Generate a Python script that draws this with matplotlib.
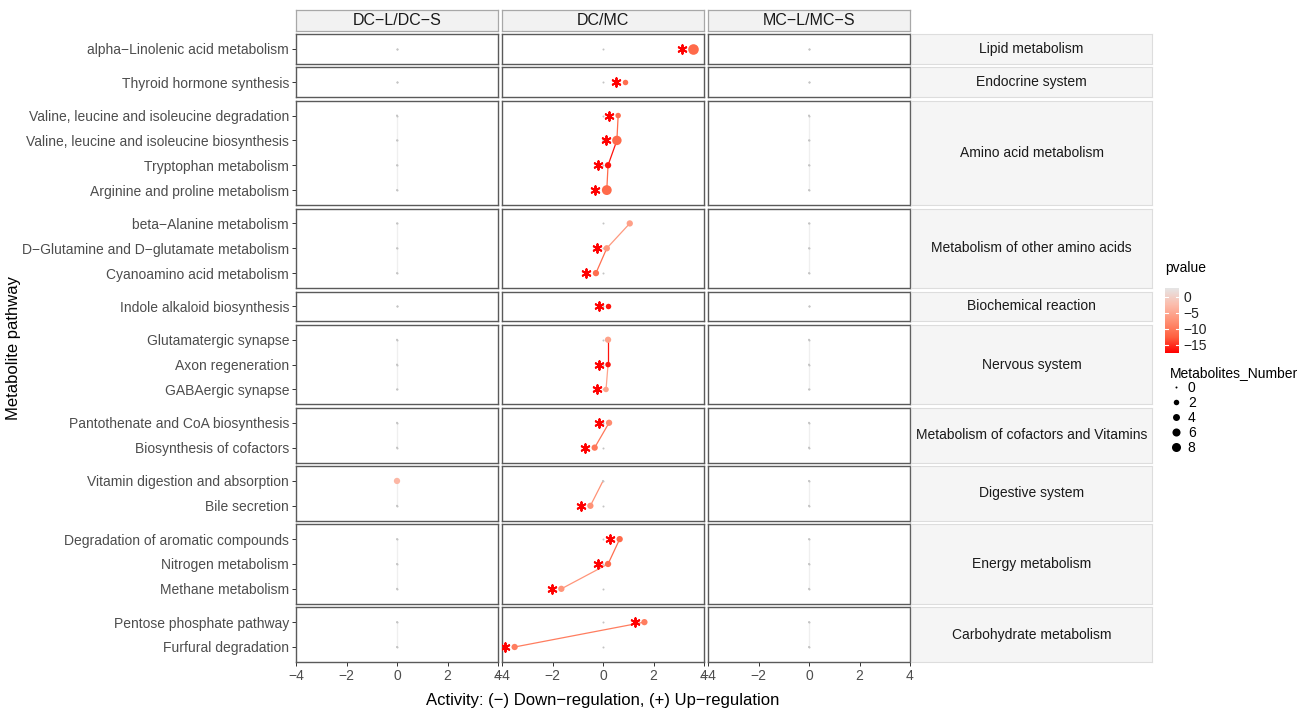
import numpy as np
import matplotlib
matplotlib.use("Agg")
import matplotlib.pyplot as plt
from matplotlib.colors import LinearSegmentedColormap, Normalize
from matplotlib.lines import Line2D

plt.rcParams['font.family'] = ['Liberation Sans', 'DejaVu Sans']

W, H = 1307, 710

comparisons = ['DC−L/DC−S', 'DC/MC', 'MC−L/MC−S']

groups = ['Lipid metabolism', 'Endocrine system', 'Amino acid metabolism',
          'Metabolism of other amino acids', 'Biochemical reaction',
          'Nervous system', 'Metabolism of cofactors and Vitamins',
          'Digestive system', 'Energy metabolism', 'Carbohydrate metabolism']
group_sizes = [1, 1, 4, 3, 1, 3, 2, 2, 3, 2]

pathways = ['alpha−Linolenic acid metabolism',
            'Thyroid hormone synthesis',
            'Valine, leucine and isoleucine degradation',
            'Valine, leucine and isoleucine biosynthesis',
            'Tryptophan metabolism',
            'Arginine and proline metabolism',
            'beta−Alanine metabolism',
            'D−Glutamine and D−glutamate metabolism',
            'Cyanoamino acid metabolism',
            'Indole alkaloid biosynthesis',
            'Glutamatergic synapse',
            'Axon regeneration',
            'GABAergic synapse',
            'Pantothenate and CoA biosynthesis',
            'Biosynthesis of cofactors',
            'Vitamin digestion and absorption',
            'Bile secretion',
            'Degradation of aromatic compounds',
            'Nitrogen metabolism',
            'Methane metabolism',
            'Pentose phosphate pathway',
            'Furfural degradation']

nan = np.nan

# DC-L/DC-S
dcl_activity = [0, 0, 0, 0, 0, 0, 0, 0, 0, 0, 0,
                0, 0, 0, 0, 0, 0, 0, 0, 0, 0, 0]
dcl_pvalue = [nan, nan, nan, nan, nan, nan, nan, nan, nan, nan, nan,
              nan, nan, nan, nan, -3.0, nan, nan, nan, nan, nan, nan]
dcl_number = [0, 0, 0, 0, 0, 0, 0, 0, 0, 0, 0,
              0, 0, 0, 0, 3, 0, 0, 0, 0, 0, 0]
dcl_star = [0, 0, 0, 0, 0, 0, 0, 0, 0, 0, 0,
            0, 0, 0, 0, 0, 0, 0, 0, 0, 0, 0]

# DC/MC
dcmc_activity = [3.58, 0.87, 0.6, 0.55, 0.2, 0.15, 1.06, 0.15, -0.28, 0.2, 0.2,
                 0.2, 0.12, 0.24, -0.33, 0.0, -0.5, 0.66, 0.2, -1.65, 1.64, -3.5]
dcmc_pvalue = [-11.5, -11.0, -11.0, -11.5, -16.5, -11.5, -5.7, -6.5, -11.0, -16.5, -5.5,
               -16.5, -5.5, -8.0, -10.0, nan, -7.4, -11.5, -11.0, -7.0, -9.5, -9.5]
dcmc_number = [12, 2, 2, 9, 3, 10, 3, 3, 3, 2, 3,
               2, 2, 3, 3, 0, 3, 3, 3, 3, 3, 3]
dcmc_star = [1, 1, 1, 1, 1, 1, 0, 1, 1, 1, 0,
             1, 1, 1, 1, 0, 1, 1, 1, 1, 1, 1]

# MC-L/MC-S
mcl_activity = [0, 0, 0, 0, 0, 0, 0, 0, 0, 0, 0,
                0, 0, 0, 0, 0, 0, 0, 0, 0, 0, 0]
mcl_pvalue = [nan, nan, nan, nan, nan, nan, nan, nan, nan, nan, nan,
              nan, nan, nan, nan, nan, nan, nan, nan, nan, nan, nan]
mcl_number = [0, 0, 0, 0, 0, 0, 0, 0, 0, 0, 0,
              0, 0, 0, 0, 0, 0, 0, 0, 0, 0, 0]
mcl_star = [0, 0, 0, 0, 0, 0, 0, 0, 0, 0, 0,
            0, 0, 0, 0, 0, 0, 0, 0, 0, 0, 0]

size_breaks = [0, 2, 4, 6, 8]
pvalue_breaks = [0, -5, -10, -15]

panel_data = [
    (dcl_activity, dcl_pvalue, dcl_number, dcl_star),
    (dcmc_activity, dcmc_pvalue, dcmc_number, dcmc_star),
    (mcl_activity, mcl_pvalue, mcl_number, mcl_star),
]

# colour scale: red -> grey90 (Lab-like interpolation)
cmap = LinearSegmentedColormap.from_list(
    'pv', [(0, '#FF0000'), (0.25, '#FF6141'), (0.5, '#FF9276'),
           (0.75, '#FBBDAD'), (1, '#E5E5E5')])
norm = Normalize(vmin=-17.5, vmax=2.8)
NA_DOT = '#C4C4C4'
NA_LINE = '#EFEFEF'


def diam_px(n):
    return 2 + 8.6 * np.sqrt(np.asarray(n, dtype=float) / 12)


def pcolor(p):
    return NA_DOT if np.isnan(p) else cmap(norm(p))


def fig_rect(x, y, w, h):
    return [x / W, 1 - (y + h) / H, w / W, h / H]


fig = plt.figure(figsize=(W / 100, H / 100), dpi=100)

col_left = [296, 502, 708]
col_w = 202
top0, gap, unit = 34, 3.5, 24.85
px_per_x = col_w / 8.0
axis_grey = '#4D4D4D'

# top strips
for ci, name in enumerate(comparisons):
    sax = fig.add_axes(fig_rect(col_left[ci], 10, col_w, 21))
    sax.set_facecolor('#F2F2F2')
    sax.set_xticks([])
    sax.set_yticks([])
    for sp in sax.spines.values():
        sp.set_color('#A8A8A8')
        sp.set_linewidth(0.9)
    sax.text(0.5, 0.5, name, ha='center', va='center', fontsize=11.5,
             color='#1A1A1A', transform=sax.transAxes)

start = 0
y_top = top0
for gi, (gname, n) in enumerate(zip(groups, group_sizes)):
    h = (n + 0.2) * unit
    rows = np.arange(n)
    names = pathways[start:start + n]
    last = gi == len(groups) - 1
    for ci in range(3):
        act, pv, num, star = [np.asarray(a[start:start + n], dtype=float) for a in panel_data[ci]]
        ax = fig.add_axes(fig_rect(col_left[ci], y_top, col_w, h))
        ax.set_xlim(-4, 4)
        ax.set_ylim(n - 1 + 0.6, -0.6)
        for sp in ax.spines.values():
            sp.set_color('#5A5A5A')
            sp.set_linewidth(1.0)

        # baseline dots at zero
        ax.scatter(np.zeros(n), rows, s=(2 * 0.72) ** 2, color=NA_DOT,
                   linewidths=0, zorder=2)

        # connecting path, each segment coloured by the lower point
        for k in range(n - 1):
            p = pv[k + 1]
            col = NA_LINE if np.isnan(p) else cmap(norm(p))
            ax.plot(act[k:k + 2], rows[k:k + 2], color=col, lw=0.9, zorder=1,
                    solid_capstyle='butt')

        d = diam_px(num)
        ax.scatter(act, rows, s=(d * 0.72) ** 2, c=[pcolor(p) for p in pv],
                   linewidths=0, zorder=3)

        for k in range(n):
            if star[k]:
                off = (d[k] / 2 + 6.5) / px_per_x
                ax.scatter(act[k] - off, rows[k], marker=(6, 2, 0), s=38,
                           color='#FF0000', linewidths=1.4, zorder=4)

        if ci == 0:
            ax.set_yticks(rows)
            ax.set_yticklabels(names, fontsize=10, color=axis_grey)
            ax.tick_params(axis='y', length=3, width=0.7, color='#333333', pad=2)
        else:
            ax.set_yticks([])
        if last:
            ax.set_xticks([-4, -2, 0, 2, 4])
            ax.tick_params(axis='x', length=3, width=0.7, color='#333333',
                           labelsize=10, labelcolor=axis_grey, pad=2)
        else:
            ax.set_xticks([])

    # right strip
    rax = fig.add_axes(fig_rect(911, y_top, 241, h))
    rax.set_facecolor('#F5F5F5')
    rax.set_xticks([])
    rax.set_yticks([])
    for sp in rax.spines.values():
        sp.set_color('#DDDDDD')
        sp.set_linewidth(0.8)
    rax.text(0.5, 0.5, gname, ha='center', va='center', fontsize=10,
             color='#1A1A1A', transform=rax.transAxes)

    start += n
    y_top += h + gap

# axis titles
fig.text(603 / W, 1 - 701 / H, 'Activity: (−) Down−regulation, (+) Up−regulation',
         ha='center', va='center', fontsize=12)
fig.text(14 / W, 1 - 348 / H, 'Metabolite pathway', rotation=90,
         ha='center', va='center', fontsize=12)

# colour legend
fig.text(1165 / W, 1 - 268 / H, 'pvalue', ha='left', va='center', fontsize=10)
cax = fig.add_axes(fig_rect(1165, 288, 14, 65))
sm = plt.cm.ScalarMappable(norm=norm, cmap=cmap)
cb = fig.colorbar(sm, cax=cax)
cb.outline.set_visible(False)
cb.set_ticks(pvalue_breaks)
cb.ax.tick_params(length=0, labelsize=10, labelcolor='#222222', pad=3)
for t in pvalue_breaks:
    cax.plot([0, 0.2], [t, t], color='white', lw=0.8, transform=cax.get_yaxis_transform())
    cax.plot([0.8, 1], [t, t], color='white', lw=0.8, transform=cax.get_yaxis_transform())

# size legend
handles = [Line2D([], [], linestyle='none', marker='o', color='black',
                  markersize=float(diam_px(b)) * 0.72, markeredgewidth=0)
           for b in size_breaks]
leg = fig.legend(handles, [str(b) for b in size_breaks], title='Metabolites_Number',
                 loc='upper left', bbox_to_anchor=(1160 / W, 1 - 356 / H),
                 frameon=False, fontsize=10, title_fontsize=10,
                 labelspacing=0.08, handlelength=0.9, handletextpad=0.4,
                 borderpad=0.2, alignment='left')

fig.savefig('out.png', dpi=100)
